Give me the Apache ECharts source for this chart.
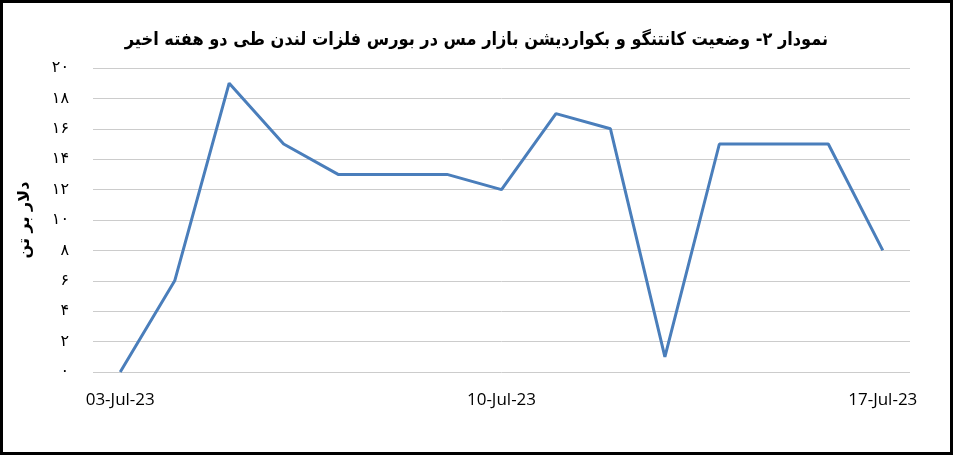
<!DOCTYPE html>
<html>
<head>
<meta charset="utf-8">
<script src="https://cdn.jsdelivr.net/npm/echarts@6/dist/echarts.min.js"></script>
<style>
  html, body { margin: 0; padding: 0; background: #fff; }
  #main { width: 953px; height: 455px; box-sizing: border-box; border: 3px solid #000; }
</style>
</head>
<body>
<div id="main"></div>
<script>
// روزهای محور افقی
var dates = ['03-Jul-23', '04-Jul-23', '05-Jul-23', '06-Jul-23', '07-Jul-23', '08-Jul-23', '09-Jul-23',
  '10-Jul-23', '11-Jul-23', '12-Jul-23', '13-Jul-23', '14-Jul-23', '15-Jul-23', '16-Jul-23', '17-Jul-23'];
// اختلاف قیمت (دلار بر تن)
var spread = [0, 6, 19, 15, 13, 13, 13, 12, 17, 16, 1, 15, 15, 15, 8];
var yTickLabels = ['۰', '۲', '۴', '۶', '۸', '۱۰', '۱۲', '۱۴', '۱۶', '۱۸', '۲۰'];

var chartTitle = 'نمودار ۲- وضعیت کانتنگو و بکواردیشن بازار مس در بورس فلزات لندن طی دو هفته اخیر';
var yName = 'دلار بر تن';

var myChart = echarts.init(document.getElementById('main'));
myChart.setOption({
  animation: false,
  title: {
    text: chartTitle,
    left: 'center',
    top: 23,
    textStyle: { fontFamily: 'DejaVu Sans Condensed', fontWeight: 'bold', fontSize: 18, color: '#000' }
  },
  grid: { left: 90, right: 40, top: 65, bottom: 80 },
  xAxis: {
    type: 'category',
    data: dates,
    boundaryGap: true,
    axisLine: { show: false },
    axisTick: { show: false },
    axisLabel: {
      interval: 6,
      margin: 20,
      fontFamily: 'Open Sans',
      fontSize: 17,
      color: '#000'
    }
  },
  yAxis: {
    type: 'value',
    min: 0,
    max: 20,
    interval: 2,
    name: yName,
    nameLocation: 'middle',
    nameGap: 60,
    nameTextStyle: { fontFamily: 'DejaVu Sans', fontWeight: 'bold', fontSize: 16, color: '#000' },
    axisLine: { show: false },
    axisTick: { show: false },
    axisLabel: {
      margin: 24,
      fontFamily: 'DejaVu Sans',
      fontSize: 16,
      color: '#000',
      formatter: function (v) { return yTickLabels[Math.round(v / 2)]; }
    },
    splitLine: { lineStyle: { color: '#cccccc', width: 1 } }
  },
  series: [{
    type: 'line',
    data: spread,
    showSymbol: false,
    lineStyle: { color: '#4a7ebb', width: 3 }
  }]
});
</script>
</body>
</html>
